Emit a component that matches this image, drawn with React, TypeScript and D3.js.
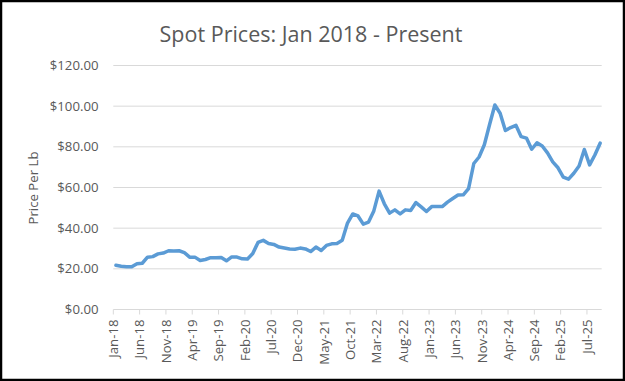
import React from "react";
import * as d3 from "d3";

const startYear = 2018;
const prices: number[] = [
  // 2018
  21.75, 21.25, 21.0, 21.0, 22.5, 22.75, 25.75, 26.0, 27.35, 27.75, 28.9, 28.8,
  // 2019
  28.9, 28.0, 25.75, 25.75, 24.1, 24.6, 25.5, 25.5, 25.6, 23.95, 25.85, 25.8,
  // 2020
  24.9, 24.8, 27.5, 33.0, 34.0, 32.5, 32.0, 30.7, 30.2, 29.75, 29.6, 30.2,
  // 2021
  29.8, 28.5, 30.7, 29.0, 31.5, 32.3, 32.5, 34.1, 42.5, 47.0, 46.0, 42.0,
  // 2022
  43.0, 48.5, 58.2, 52.0, 47.4, 49.0, 47.0, 49.0, 48.7, 52.6, 50.5, 48.2,
  // 2023
  50.6, 50.7, 50.6, 52.8, 54.6, 56.3, 56.4, 59.5, 71.8, 75.0, 81.0, 91.0,
  // 2024
  100.6, 96.5, 88.0, 89.5, 90.6, 85.0, 84.3, 78.8, 82.0, 80.4, 77.0, 72.6,
  // 2025
  69.7, 65.1, 64.1, 67.0, 70.6, 78.7, 71.1, 76.0, 81.8,
];
const yTicks: number[] = [0, 20, 40, 60, 80, 100, 120];
const monthNames = ["Jan", "Feb", "Mar", "Apr", "May", "Jun", "Jul", "Aug", "Sep", "Oct", "Nov", "Dec"];
const xTickStep = 5;
const title = "Spot Prices: Jan 2018 - Present";
const yTitle = "Price Per Lb";

const W = 625;
const H = 381;

export default function App() {
  const x = d3.scaleLinear().domain([0, 92.8]).range([113.3, 601.7]);
  const y = d3.scaleLinear().domain([0, 120]).range([309.5, 65.5]);
  const line = d3
    .line<number>()
    .x((_, i) => x(i + 0.5))
    .y((d) => y(d));
  const xTicks = d3.range(0, 92, xTickStep);
  const label = (i: number) => {
    const m = i % 12;
    const yr = startYear + Math.floor(i / 12);
    return `${monthNames[m]}-${String(yr).slice(2)}`;
  };
  const fmt = (v: number) => "$" + d3.format(".2f")(v);
  const font = "Open Sans, Lato, sans-serif";
  const grey = "#595959";
  return (
    <div style={{ position: "absolute", left: 0, top: 0 }}>
      <svg width={W} height={H} style={{ display: "block" }}>
        <rect x={0} y={0} width={W} height={H} fill="#ffffff" />
        {yTicks.map((t) => (
          <line key={t} x1={113.3} x2={601.7} y1={y(t)} y2={y(t)} stroke="#d9d9d9" strokeWidth={1} />
        ))}
        {yTicks.map((t) => (
          <text key={"l" + t} x={98.5} y={y(t)} dy="0.35em" textAnchor="end" fontFamily={font} fontSize={13.2} fill={grey}>
            {fmt(t)}
          </text>
        ))}
        {xTicks.map((i) => (
          <g key={"x" + i}>
            <line x1={x(i)} x2={x(i)} y1={y(0)} y2={y(0) + 5} stroke="#d9d9d9" strokeWidth={1} />
            <text
              transform={`translate(${x(i) + 4.8},${y(0) + 10}) rotate(-90)`}
              textAnchor="end"
              fontFamily={font}
              fontSize={13.2}
              fill={grey}
            >
              {label(i)}
            </text>
          </g>
        ))}
        <path d={line(prices) || ""} fill="none" stroke="#5b9bd5" strokeWidth={3.5} strokeLinejoin="round" strokeLinecap="round" />
        <text x={311} y={42} textAnchor="middle" fontFamily={font} fontSize={21.5} fill={grey}>
          {title}
        </text>
        <text transform={`translate(38,${188}) rotate(-90)`} textAnchor="middle" fontFamily={font} fontSize={13.2} fill={grey}>
          {yTitle}
        </text>
        <rect x={1} y={1} width={W - 2} height={H - 2} fill="none" stroke="#000000" strokeWidth={2.5} />
      </svg>
    </div>
  );
}
